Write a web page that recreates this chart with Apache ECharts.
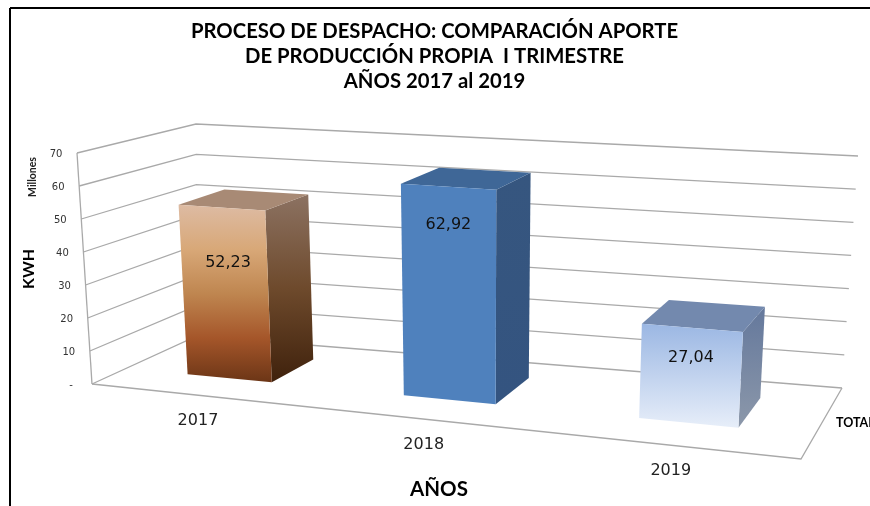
<!DOCTYPE html>
<html><head><meta charset="utf-8">
<style>html,body{margin:0;padding:0;background:#fff}#c{width:870px;height:506px}</style>
<script src="https://cdn.jsdelivr.net/npm/echarts@6/dist/echarts.min.js"></script>
</head><body><div id="c"></div>
<script>
const categories = ['2017', '2018', '2019'];
const values = [52.23, 62.92, 27.04];
const valueLabels = ['52,23', '62,92', '27,04'];
const yTicks = [0, 10, 20, 30, 40, 50, 60, 70];
const yTickLabels = ['-', '10', '20', '30', '40', '50', '60', '70'];
const titleText = 'PROCESO DE DESPACHO: COMPARACIÓN APORTE\nDE PRODUCCIÓN PROPIA  I TRIMESTRE\nAÑOS 2017 al 2019';

// Perspective box: screen corners of the floor and of the ceiling (front-left, front-right, back-right, back-left)
const floorQuad = [[92,384],[801,459],[842,388],[197,336]];
const topQuad = [[77,153],[817,211],[858,156],[196,124]];
const U_WARP = 0.14, BAR_BAND = 0.40, BAR_W0 = 0.305, BAR_W1 = 0.745;
const LABEL_HEIGHT = [0.675, 0.82, 0.69];   // where each value label sits on its bar's front face
const LABEL_DX = [4, 0, 0];
const faces = [
  {front:[['0','#DDBBA3'],['0.25','#D8A878'],['0.5','#BF8650'],['0.75','#A5562A'],['1','#6B3516']],
   side:[['0','#8C7262'],['0.5','#6E4A2C'],['1','#3F210C']], top:'#A88A75'},
  {front:[['0','#4F81BD'],['1','#4F81BD']], side:[['0','#36567F'],['1','#345480']], top:'#3F6797'},
  {front:[['0','#9BB7E3'],['1','#E7EEF9']], side:[['0','#64789C'],['1','#8C98AA']], top:'#7389AE'}
];

function homography(q){
  const [p0,p1,p2,p3]=q;
  const dx1=p1[0]-p2[0],dx2=p3[0]-p2[0],sx=p0[0]-p1[0]+p2[0]-p3[0];
  const dy1=p1[1]-p2[1],dy2=p3[1]-p2[1],sy=p0[1]-p1[1]+p2[1]-p3[1];
  const den=dx1*dy2-dx2*dy1;
  const g=(sx*dy2-dx2*sy)/den,h=(dx1*sy-sx*dy1)/den;
  const a=p1[0]-p0[0]+g*p1[0],b=p3[0]-p0[0]+h*p3[0],d=p1[1]-p0[1]+g*p1[1],e=p3[1]-p0[1]+h*p3[1];
  return (u,w)=>{const k=g*u+h*w+1;return [(a*u+b*w+p0[0])/k,(d*u+e*w+p0[1])/k];};
}
const hFloor=homography(floorQuad),hTop=homography(topQuad);
function project(u,w,v){   // walls
  const f=hFloor(u,w),t=hTop(u,w);
  return [f[0]+(t[0]-f[0])*v,f[1]+(t[1]-f[1])*v];
}
function floorPoint(u,w){return hFloor(u+U_WARP*u*(1-u),w);}
function projectBar(u,w,v){  // verticals rise from the floor towards a far vanishing point
  const f=floorPoint(u,w);
  const H=(79.8-0.00077*f[0]+0.394*f[1])*v;
  return [f[0]+(f[0]-480)/5500*H,f[1]-H];
}
const normU=(p,px)=>(px-p.coordSys.x)/p.coordSys.width;
const normV=(p,py)=>(p.coordSys.y+p.coordSys.height-py)/p.coordSys.height;
const grad=s=>new echarts.graphic.LinearGradient(0,0,0,1,s.map(c=>({offset:+c[0],color:c[1]})));
const GRID='#A9A9A9';
const line=(pts)=>({type:'polyline',shape:{points:pts},style:{stroke:GRID,lineWidth:1.3,fill:null}});

function renderWall(params,api){
  const val=api.value(0);
  const v=normV(params,api.coord([0,val])[1]);
  const a=project(0,0,v),b=project(0,1,v),c=project(1,1,v);
  const children=[line([a,b,c]),
    {type:'text',x:a[0]-21,y:a[1]+1,style:{text:yTickLabels[params.dataIndex],fontFamily:'DejaVu Sans',fontSize:10,fill:'#333',align:'center',verticalAlign:'middle'}}];
  if(params.dataIndex===0){
    children.push(line([project(0,0,0),project(0,0,1)]));
    children.push(line([project(0,0,0),project(1,0,0),project(1,1,0)]));
  }
  return {type:'group',children};
}
function renderBar(params,api){
  const i=params.dataIndex;
  const pt=api.coord([i,api.value(1)]);
  const uc=normU(params,pt[0]),h=normV(params,pt[1]);
  const hw=api.size([1,0])[0]/params.coordSys.width*BAR_BAND/2;
  const u0=uc-hw,u1=uc+hw,f=faces[i];
  const poly=(pts,fill)=>({type:'polygon',shape:{points:pts},style:{fill}});
  const p=projectBar;
  const lab=p(uc,BAR_W0,h*LABEL_HEIGHT[i]);
  const base=floorPoint(uc,0);
  return {type:'group',children:[
    poly([p(u1,BAR_W0,0),p(u1,BAR_W1,0),p(u1,BAR_W1,h),p(u1,BAR_W0,h)],grad(f.side)),
    poly([p(u0,BAR_W0,h),p(u1,BAR_W0,h),p(u1,BAR_W1,h),p(u0,BAR_W1,h)],f.top),
    poly([p(u0,BAR_W0,0),p(u1,BAR_W0,0),p(u1,BAR_W0,h),p(u0,BAR_W0,h)],grad(f.front)),
    {type:'text',x:lab[0]+LABEL_DX[i],y:lab[1],style:{text:valueLabels[i],fontFamily:'DejaVu Sans',fontSize:16,fill:'#111',align:'center',verticalAlign:'middle'}},
    {type:'text',x:base[0]+1,y:base[1]+26,style:{text:categories[i],fontFamily:'DejaVu Sans',fontSize:16,fill:'#222',align:'center',verticalAlign:'middle'}}
  ]};
}
const chart=echarts.init(document.getElementById('c'),null,{renderer:'canvas'});
chart.setOption({
  animation:false,backgroundColor:'#fff',
  title:{text:titleText,left:429.5,top:13.5,textAlign:'center',textStyle:{fontFamily:'Lato',fontWeight:'bold',fontSize:20.3,lineHeight:25,color:'#000'}},
  grid:{left:100,right:100,top:120,bottom:120},
  xAxis:{type:'category',data:categories,show:false},
  yAxis:{type:'value',min:0,max:70,interval:10,show:false},
  graphic:[
    {type:'line',shape:{x1:10,y1:8,x2:870,y2:8},style:{stroke:'#000',lineWidth:2}},
    {type:'line',shape:{x1:10,y1:8,x2:10,y2:506},style:{stroke:'#000',lineWidth:2}},
    {type:'text',x:33,y:177,rotation:Math.PI/2,style:{text:'Millones',fontFamily:'Lato',fontWeight:'bold',fontSize:10.5,fill:'#222',align:'center',verticalAlign:'middle'}},
    {type:'text',x:29,y:269,rotation:Math.PI/2,style:{text:'KWH',fontFamily:'Lato',fontWeight:'bold',fontSize:16,fill:'#000',align:'center',verticalAlign:'middle'}},
    {type:'text',x:439,y:489,style:{text:'AÑOS',fontFamily:'Lato',fontWeight:'bold',fontSize:20.5,fill:'#000',align:'center',verticalAlign:'middle'}},
    {type:'text',x:836,y:423,style:{text:'TOTAL',fontFamily:'Lato',fontWeight:'bold',fontSize:12.5,fill:'#000',align:'left',verticalAlign:'middle'}}
  ],
  series:[
    {type:'custom',coordinateSystem:'cartesian2d',clip:false,silent:true,z:1,renderItem:renderWall,encode:{y:0},data:yTicks.map(t=>[t])},
    {type:'custom',coordinateSystem:'cartesian2d',clip:false,silent:true,z:2,renderItem:renderBar,encode:{x:0,y:1},data:values.map((v,i)=>[i,v])}
  ]
});
</script></body></html>
